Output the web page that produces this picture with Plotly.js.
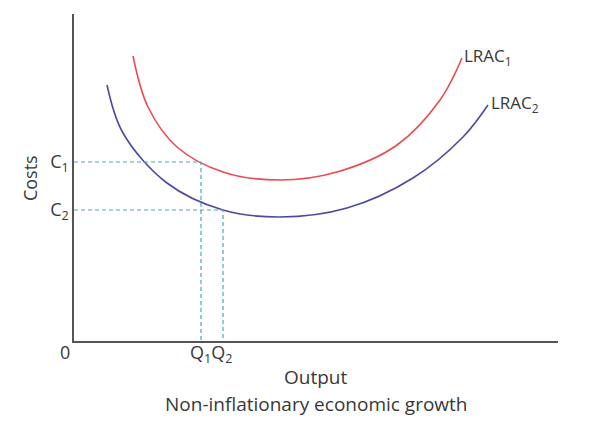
<!DOCTYPE html>
<html>
<head>
<meta charset="utf-8">
<script src="https://cdn.plot.ly/plotly-3.0.1.min.js"></script>
<style>
  html, body { margin: 0; padding: 0; background: #fff; }
  #chart { width: 597px; height: 429px; }
</style>
</head>
<body>
<div id="chart"></div>
<script>
// output / cost units
const lrac1X = [59, 74, 103, 149, 206, 263, 323, 366, 388];
const lrac1Y = [285, 234, 194, 169, 161, 169, 196, 241, 283];

const lrac2X = [33, 49, 93, 149, 206, 273, 339, 389, 414];
const lrac2Y = [256, 208, 158, 131, 124, 133, 163, 204, 236];

const costLevels = [179, 131];          // C1, C2
const outputLevels = [127, 149];        // Q1, Q2
const costLabels = ["C<sub>1</sub>", "C<sub>2</sub>"];
const outputLabels = ["Q<sub>1</sub>", "Q<sub>2</sub>"];

const FONT = "Open Sans, Lato, sans-serif";
const TEXT = "#383838";
const GUIDE = "#4aa9b3";

const traces = [
  {
    x: lrac1X, y: lrac1Y, type: "scatter", mode: "lines",
    line: { color: "#ec4a4f", width: 1.6, shape: "spline", smoothing: 1 },
    hoverinfo: "skip"
  },
  {
    x: lrac2X, y: lrac2Y, type: "scatter", mode: "lines",
    line: { color: "#4b4a9e", width: 1.6, shape: "spline", smoothing: 1 },
    hoverinfo: "skip"
  }
];

// dashed guides from each cost level across and down to its output level
costLevels.forEach((c, i) => {
  traces.push({
    x: [0, outputLevels[i], outputLevels[i]],
    y: [c, c, 0],
    type: "scatter", mode: "lines",
    line: { color: GUIDE, width: 1.2, dash: "4px,3px" },
    hoverinfo: "skip"
  });
});

const layout = {
  width: 597, height: 429,
  margin: { l: 74, r: 39, t: 14, b: 88 },
  paper_bgcolor: "#fff", plot_bgcolor: "#fff",
  showlegend: false,
  font: { family: FONT, color: TEXT, size: 18 },
  xaxis: {
    range: [0, 484], showgrid: false, zeroline: false,
    showline: true, linecolor: "#555", linewidth: 1.6,
    showticklabels: false, ticks: "", fixedrange: true
  },
  yaxis: {
    range: [0, 327], showgrid: false, zeroline: false,
    showline: true, linecolor: "#555", linewidth: 1.6,
    tickvals: costLevels, ticktext: costLabels,
    ticks: "", tickfont: { size: 18, color: TEXT }, fixedrange: true
  },
  annotations: [
    { text: "0", xref: "paper", yref: "paper", x: -0.019, y: -0.034,
      xanchor: "center", yanchor: "middle", showarrow: false, font: { size: 18 } },
    { text: outputLabels.join(""), x: (outputLevels[0] + outputLevels[1]) / 2 - 1, yref: "paper", y: -0.037,
      xanchor: "center", yanchor: "middle", showarrow: false, font: { size: 18 } },
    { text: "Costs", xref: "paper", yref: "paper", x: -0.091, y: 0.498,
      textangle: -90, xanchor: "center", yanchor: "middle", showarrow: false, font: { size: 18 } },
    { text: "Output", xref: "paper", yref: "paper", x: 0.498, y: -0.110,
      xanchor: "center", yanchor: "middle", showarrow: false, font: { size: 19 } },
    { text: "Non-inflationary economic growth", xref: "paper", yref: "paper", x: 0.5, y: -0.193,
      xanchor: "center", yanchor: "middle", showarrow: false, font: { size: 19 } },
    { text: "LRAC<sub>1</sub>", x: lrac1X[lrac1X.length - 1], y: lrac1Y[lrac1Y.length - 1],
      xanchor: "left", yanchor: "middle", xshift: 0, yshift: 2, showarrow: false, font: { size: 17 } },
    { text: "LRAC<sub>2</sub>", x: lrac2X[lrac2X.length - 1], y: lrac2Y[lrac2Y.length - 1],
      xanchor: "left", yanchor: "middle", xshift: 1, yshift: 2, showarrow: false, font: { size: 17 } }
  ]
};

Plotly.newPlot("chart", traces, layout, { displayModeBar: false, staticPlot: true });
</script>
</body>
</html>
